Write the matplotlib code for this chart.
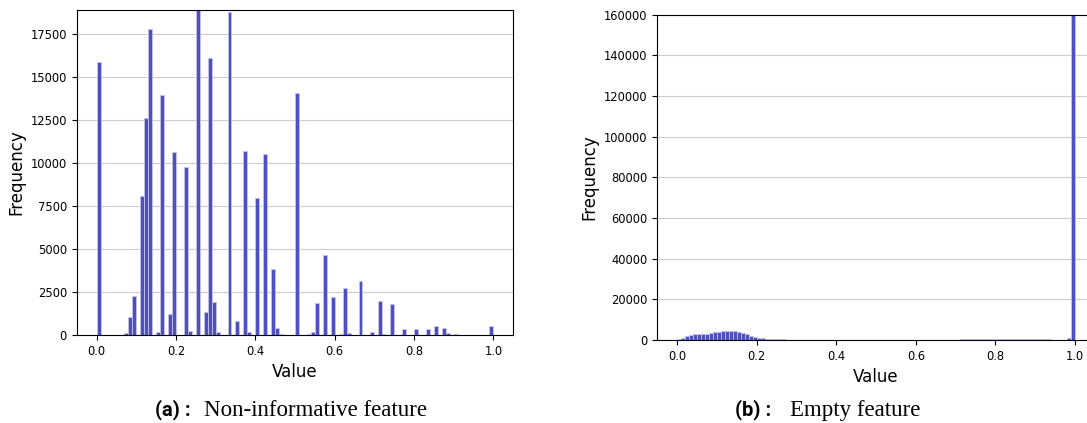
import numpy as np
import matplotlib
matplotlib.use("Agg")
import matplotlib.pyplot as plt

# ---- data: histogram bins (index of 0.01-wide bin) and counts ----
noninf_bins = [0, 7, 8, 9, 11, 12, 13, 15, 16, 18, 19, 22, 23, 25, 27, 28, 29, 30,
               33, 35, 37, 38, 40, 42, 44, 45, 46, 50, 53, 54, 55, 57, 59, 61,
               62, 63, 66, 69, 71, 72, 74, 77, 80, 83, 85, 87, 88, 90, 99]
noninf_counts = [15850, 100, 1050, 2250, 8060, 12600, 17790, 175, 13950, 1220, 10620,
                 9770, 230, 19200, 1320, 16100, 1920, 200, 18760, 800, 10680, 150,
                 7950, 10520, 3820, 430, 50, 14050, 30, 200, 1860, 4630, 2190, 50,
                 2750, 100, 3160, 190, 1950, 30, 1820, 330, 370, 370, 540, 430, 100,
                 50, 540]

empty_bins = list(range(0, 27)) + list(range(71, 94)) + [98, 99]
empty_counts = [660, 1160, 1800, 2300, 2800, 2800, 2900, 3100, 3500, 3800, 4100,
                4400, 4500, 4500, 4200, 3800, 3400, 2800, 2100, 1600, 1150, 800,
                650, 600, 500, 400, 300,
                300, 250, 350, 300, 400, 300, 350, 300, 250, 350, 300, 400, 300,
                350, 300, 250, 300, 350, 300, 250, 300, 350, 300,
                1100, 160000]

captions = [("(a) :", "Non-informative feature"), ("(b) :", "Empty feature")]

BAR_FACE = "#4f4fc4"
BAR_EDGE = "#c4c4ea"
edges = np.linspace(0.0, 1.0, 101)

W, H = 1087, 423
fig = plt.figure(figsize=(W / 100, H / 100), dpi=100)

ax1 = fig.add_axes([76.7 / W, (H - 335) / H, (513.3 - 76.7) / W, 325 / H])
ax2 = fig.add_axes([657.3 / W, (H - 340) / H, (1094.9 - 657.3) / W, 325.5 / H])


def draw_hist(ax, bins, counts, ymax):
    centers = [(b + 0.5) / 100 for b in bins]
    ax.hist(centers, bins=edges, weights=counts, color=BAR_FACE,
            edgecolor=BAR_EDGE, linewidth=0.6, zorder=2)
    ax.set_xlim(-0.05, 1.05)
    ax.set_ylim(0, ymax)
    ax.set_axisbelow(True)
    ax.yaxis.grid(True, color="#cccccc", linewidth=0.8)
    ax.xaxis.grid(False)
    ax.set_xlabel("Value", fontsize=12)
    ax.set_ylabel("Frequency", fontsize=12)
    ax.tick_params(labelsize=8.3)
    ax.set_xticks([0.0, 0.2, 0.4, 0.6, 0.8, 1.0])


draw_hist(ax1, noninf_bins, noninf_counts, 18900)
ax1.set_yticks(np.arange(0, 17501, 2500))
draw_hist(ax2, empty_bins, empty_counts, 160000)
ax2.set_yticks(np.arange(0, 160001, 20000))

# captions below each panel
cap_y = (H - 410) / H
for (tag, text), x_tag, x_txt in zip(captions, [155, 735], [204, 790]):
    fig.text(x_tag / W, cap_y, tag, fontsize=14.5, fontweight="bold",
             family="Roboto", va="center", ha="left")
    fig.text(x_txt / W, cap_y, text, fontsize=16.5, family="Liberation Serif",
             va="center", ha="left")

fig.savefig("out.png", dpi=100)
